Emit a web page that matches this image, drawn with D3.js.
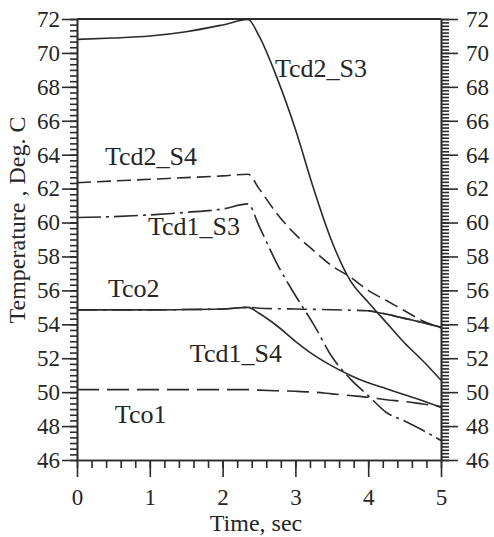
<!DOCTYPE html>
<html lang="en">
<head>
<meta charset="UTF-8">
<title>Temperature vs Time</title>
<style>
  body { margin: 0; background: #fff; }
  svg { display: block; }
  text { font-family: 'Liberation Serif', 'Times New Roman', serif; fill: #262626; }
</style>
</head>
<body>
<svg id="chart" width="494" height="537"></svg>
<script src="https://d3js.org/d3.v7.min.js"></script>
<script>
// time grid (sec) shared by every curve
const times = [0, 0.5, 1, 1.5, 2, 2.35, 2.5, 2.75, 3, 3.25, 3.5, 3.75, 4, 4.25, 4.5, 4.75, 5];

// temperatures, Deg. C
const tcd2S3 = [70.8, 70.88, 71.0, 71.25, 71.65, 71.97, 71.0, 68.5, 65.5, 62.0, 58.9, 56.6, 55.3, 54.1, 52.9, 51.85, 50.7];
const tcd2S4 = [62.35, 62.45, 62.55, 62.65, 62.75, 62.85, 62.0, 60.5, 59.3, 58.35, 57.45, 56.8, 56.0, 55.4, 54.8, 54.2, 53.8];
const tcd1S3 = [60.3, 60.35, 60.45, 60.6, 60.8, 61.1, 59.8, 57.55, 55.7, 54.0, 52.1, 50.8, 49.8, 48.8, 48.3, 47.75, 47.15];
const tco2   = [54.85, 54.85, 54.85, 54.87, 54.9, 55.0, 54.95, 54.92, 54.9, 54.88, 54.86, 54.83, 54.8, 54.6, 54.35, 54.1, 53.83];
const tcd1S4 = [54.85, 54.85, 54.85, 54.87, 54.9, 55.0, 54.65, 53.9, 53.0, 52.2, 51.55, 51.0, 50.55, 50.2, 49.85, 49.5, 49.1];
const tco1   = [50.15, 50.15, 50.15, 50.15, 50.15, 50.15, 50.12, 50.08, 50.05, 50.0, 49.9, 49.8, 49.7, 49.55, 49.45, 49.3, 49.15];

// curve names and where their labels sit (t, temp)
const names = ["Tcd2_S3", "Tcd2_S4", "Tcd1_S3", "Tco2", "Tcd1_S4", "Tco1"];
const labelT = [2.72, 0.385, 0.975, 0.426, 1.55, 0.52];
const labelV = [68.58, 63.39, 59.26, 55.61, 51.78, 48.18];

const xTicks = [0, 1, 2, 3, 4, 5];
const yTicks = [46, 48, 50, 52, 54, 56, 58, 60, 62, 64, 66, 68, 70, 72];

const svg = d3.select('#chart');
const mLeft = 77, mRight = 441, mTop = 19, mBottom = 460;
const ink = '#2b2b2b';

const x = d3.scaleLinear().domain([0, 5]).range([mLeft, mRight]);
const y = d3.scaleLinear().domain([46, 72]).range([mBottom, mTop]);

// left axis
const gL = svg.append('g').attr('transform', `translate(${mLeft},0)`);
gL.call(d3.axisLeft(y).tickValues(d3.range(46, 72.01, 2 / 6)).tickSize(7).tickSizeOuter(0).tickFormat(''));
gL.append('g').call(d3.axisLeft(y).tickValues(yTicks).tickSize(15).tickSizeOuter(0).tickPadding(2).tickFormat(d3.format('d')));

// right axis
const gR = svg.append('g').attr('transform', `translate(${mRight},0)`);
gR.call(d3.axisRight(y).tickValues(d3.range(46, 72.01, 0.2)).tickSize(8).tickSizeOuter(0).tickFormat(''));
gR.append('g').call(d3.axisRight(y).tickValues(yTicks).tickSize(17).tickSizeOuter(0).tickPadding(8).tickFormat(d3.format('d')));

// bottom axis
const gB = svg.append('g').attr('transform', `translate(0,${mBottom})`);
gB.call(d3.axisBottom(x).tickValues(d3.range(0, 5.01, 0.2)).tickSize(8).tickSizeOuter(0).tickFormat(''));
gB.append('g').call(d3.axisBottom(x).tickValues(xTicks).tickSize(17).tickSizeOuter(0).tickPadding(12).tickFormat(d3.format('d')));

svg.selectAll('.domain, .tick line').attr('stroke', ink).attr('stroke-width', 1.6);
svg.selectAll('.tick text').attr('font-size', 23).attr('fill', ink)
  .attr('font-family', "'Liberation Serif', 'Times New Roman', serif");

// top border
svg.append('line')
  .attr('x1', x(0)).attr('x2', x(5))
  .attr('y1', y(72)).attr('y2', y(72))
  .attr('stroke', ink).attr('stroke-width', 1.8);

// curves
const line = d3.line()
  .x(d => x(d[0]))
  .y(d => y(d[1]))
  .curve(d3.curveMonotoneX);

const pts = vals => times.map((t, i) => [t, vals[i]]);

const curves = [
  { vals: tco1, dash: '22,8' },
  { vals: tco2, dash: '20,6,3,6' },
  { vals: tcd1S4, dash: null },
  { vals: tcd1S3, dash: '24,5,3,5' },
  { vals: tcd2S4, dash: '14,6' },
  { vals: tcd2S3, dash: null }
];

curves.forEach(c => {
  svg.append('path')
    .attr('d', line(pts(c.vals)))
    .attr('fill', 'none')
    .attr('stroke', ink)
    .attr('stroke-width', 1.6)
    .attr('stroke-dasharray', c.dash);
});

// Tco2 tail is drawn solid in the original
svg.append('path')
  .attr('d', line(pts(tco2).filter(d => d[0] >= 4)))
  .attr('fill', 'none')
  .attr('stroke', ink)
  .attr('stroke-width', 1.6);

// curve labels
svg.selectAll('.curve-label')
  .data(names)
  .enter().append('text')
  .attr('class', 'curve-label')
  .attr('x', (d, i) => x(labelT[i]))
  .attr('y', (d, i) => y(labelV[i]))
  .attr('font-size', 26)
  .text(d => d);

// axis titles
svg.append('text')
  .attr('x', 256).attr('y', 531)
  .attr('text-anchor', 'middle')
  .attr('font-size', 24)
  .text('Time, sec');

svg.append('text')
  .attr('transform', 'translate(25,220) rotate(-90)')
  .attr('text-anchor', 'middle')
  .attr('font-size', 24)
  .text('Temperature , Deg. C');
</script>
</body>
</html>
